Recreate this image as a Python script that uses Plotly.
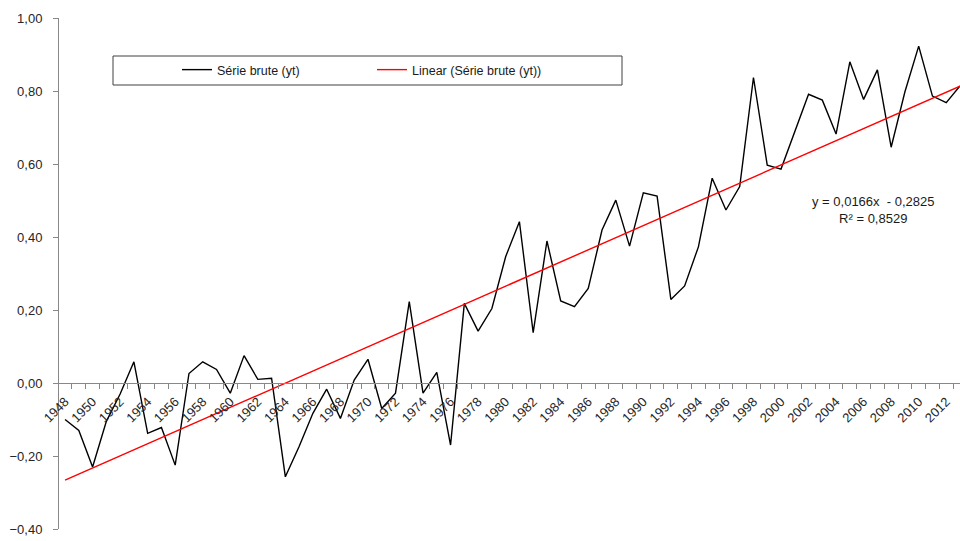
import plotly.graph_objects as go

years = list(range(1948, 2014))
serie_brute = [
    -0.10, -0.13, -0.23, -0.105, -0.03, 0.058, -0.138, -0.122, -0.225, 0.026,
    0.058, 0.037, -0.028, 0.075, 0.010, 0.013, -0.257, -0.174, -0.083, -0.017,
    -0.097, 0.008, 0.065, -0.070, -0.028, 0.223, -0.028, 0.029, -0.170, 0.218,
    0.142, 0.204, 0.346, 0.442, 0.138, 0.389, 0.225, 0.209, 0.259, 0.419,
    0.501, 0.375, 0.521, 0.512, 0.229, 0.266, 0.373, 0.561, 0.474, 0.538,
    0.837, 0.597, 0.586, 0.689, 0.791, 0.775, 0.682, 0.880, 0.777, 0.858,
    0.646, 0.798, 0.923, 0.786, 0.768, 0.814,
]
trend_slope = 0.0166
trend_intercept = -0.2825
trend_label = "y = 0,0166x  - 0,2825<br>R² = 0,8529"
x_tick_labels = [str(y) for y in range(1948, 2013, 2)]
y_tick_values = [-0.4, -0.2, 0.0, 0.2, 0.4, 0.6, 0.8, 1.0]

trend = [trend_slope * (i + 1) + trend_intercept for i in range(len(years))]

W, H = 960, 541
ml, mr, mt, mb = 59, 0, 18, 12
pw, ph = W - ml - mr, H - mt - mb

def px_to_paper_x(px):
    return (px - ml) / pw

def px_to_paper_y(py):
    return (H - mb - py) / ph

fig = go.Figure()
fig.add_trace(go.Scatter(
    x=years, y=serie_brute, mode="lines", name="Série brute (yt)",
    line=dict(color="#000000", width=1.4),
))
fig.add_trace(go.Scatter(
    x=years, y=trend, mode="lines", name="Linear (Série brute (yt))",
    line=dict(color="#FF0000", width=1.4),
))

ymin, ymax = -0.4, 1.0
zero_pos = (0 - ymin) / (ymax - ymin)

fig.update_layout(
    width=W, height=H,
    margin=dict(l=ml, r=mr, t=mt, b=mb, autoexpand=False),
    paper_bgcolor="white", plot_bgcolor="white",
    separators=", ",
    font=dict(family="Liberation Sans, Arial, sans-serif", size=12, color="#262626"),
    showlegend=True,
    legend=dict(
        orientation="h", x=px_to_paper_x(177), y=px_to_paper_y(70),
        xanchor="left", yanchor="middle",
        bgcolor="rgba(0,0,0,0)", borderwidth=0,
        entrywidth=150, entrywidthmode="pixels",
        font=dict(size=12.5, color="#1a1a1a"),
    ),
    xaxis=dict(
        range=[1947.56, 2013.0],
        anchor="free", position=zero_pos,
        showline=True, linecolor="#888888", linewidth=1,
        showgrid=False, zeroline=False,
        tickmode="array", tickvals=list(range(1948, 2013, 2)), ticktext=x_tick_labels,
        ticks="outside", ticklen=5, tickcolor="rgba(0,0,0,0)",
        tickangle=-45, tickfont=dict(size=13, color="#262626"),
        minor=dict(ticks="outside", ticklen=5, tickcolor="#888888",
                   tick0=1947.5, dtick=1, showgrid=False),
        automargin=False,
    ),
    yaxis=dict(
        range=[ymin, ymax],
        showline=True, linecolor="#888888", linewidth=1,
        showgrid=False, zeroline=False,
        tickmode="array", tickvals=y_tick_values,
        tickformat=".2f",
        ticks="outside", ticklen=5, tickcolor="#888888",
        ticklabelstandoff=8,
        tickfont=dict(size=13, color="#262626"),
        automargin=False,
    ),
    shapes=[dict(
        type="rect", xref="paper", yref="paper",
        x0=px_to_paper_x(113), x1=px_to_paper_x(622),
        y0=px_to_paper_y(85), y1=px_to_paper_y(56),
        line=dict(color="#404040", width=1), fillcolor="rgba(0,0,0,0)",
    )],
    annotations=[dict(
        text=trend_label, xref="paper", yref="paper",
        x=px_to_paper_x(873), y=px_to_paper_y(210),
        xanchor="center", yanchor="middle", showarrow=False, align="center",
        font=dict(size=13, color="#1a1a1a"),
    )],
)

fig.write_html(
    "out.html",
    config={"displayModeBar": False},
    post_script="document.body.style.margin='0';document.body.style.overflow='hidden';",
)
